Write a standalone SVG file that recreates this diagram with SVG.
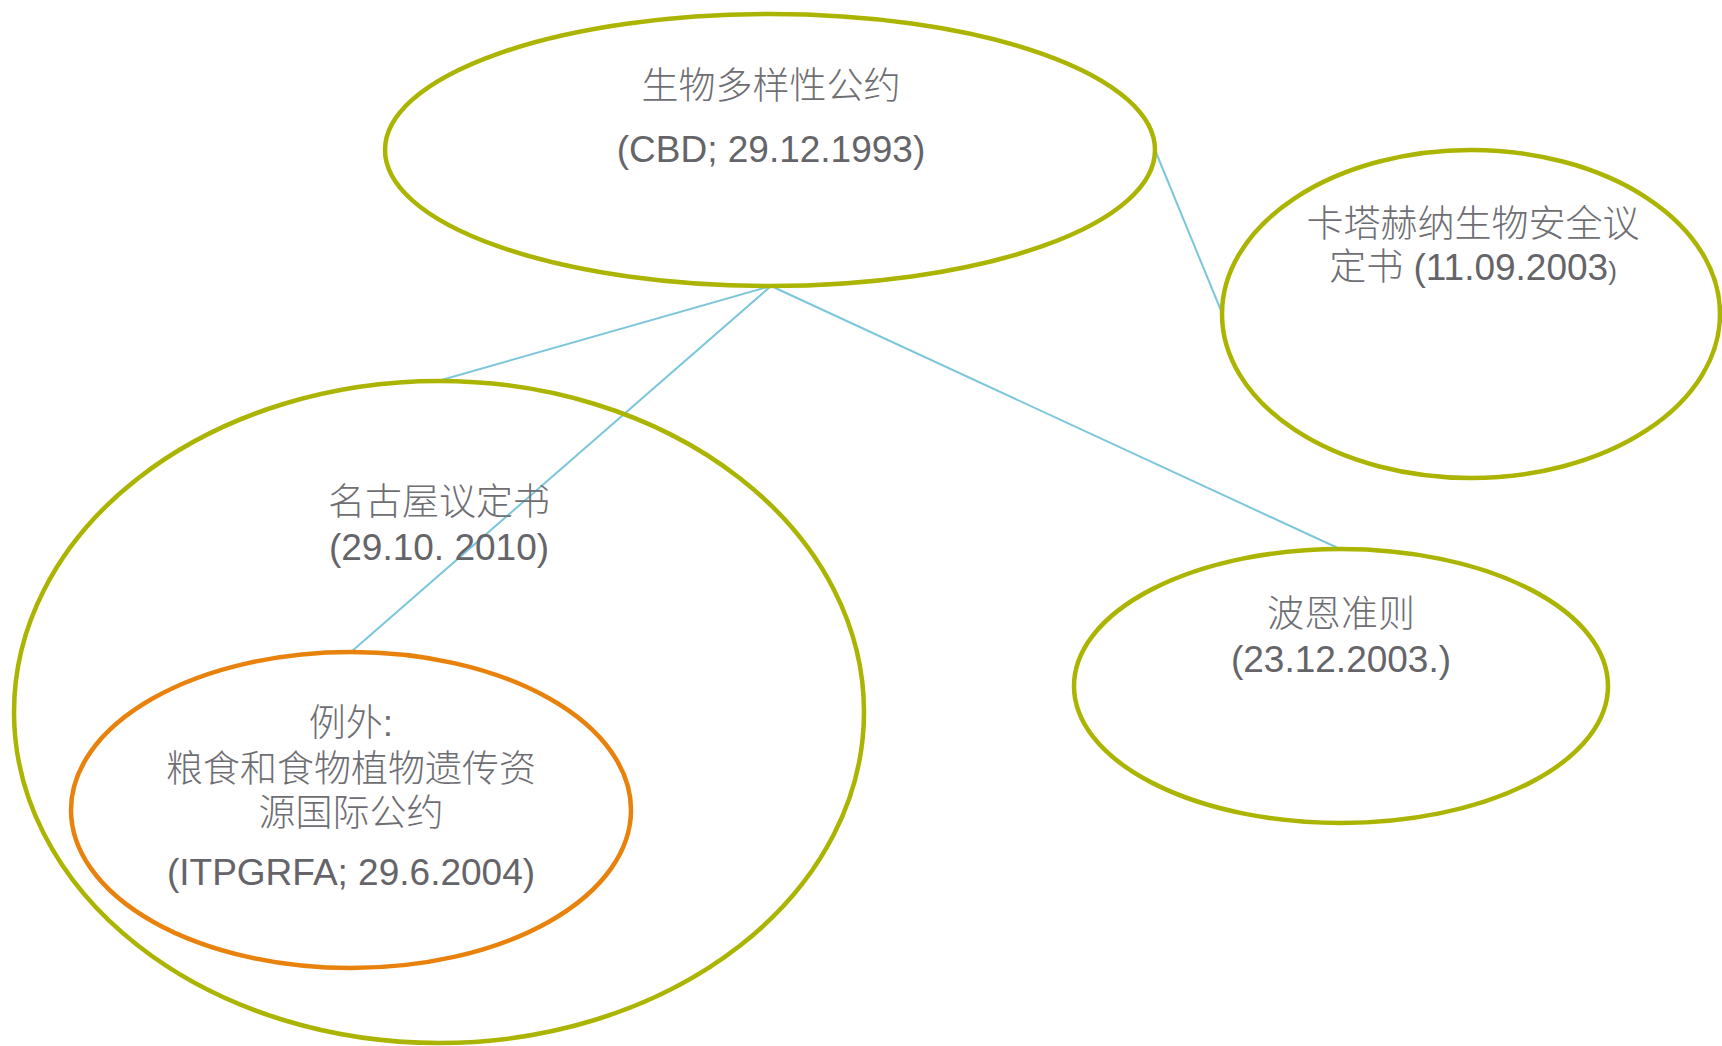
<svg xmlns="http://www.w3.org/2000/svg" width="1722" height="1046" viewBox="0 0 1722 1046">
<style>
.bg{fill:#ffffff}
.node{fill:none;stroke:#abb400;stroke-width:4.5}
.node.orange{stroke:#e8820c}
.link{stroke:#7cc6db;stroke-width:2;fill:none}
text{font-family:"Liberation Sans","Noto Sans CJK SC",sans-serif;font-size:37px;fill:#646469;text-anchor:middle}
.cjk{font-weight:300;fill:#6e6e73}
</style>
<rect class="bg" x="0" y="0" width="1722" height="1046"/>
<g id="connectors">
<line class="link" x1="771" y1="286" x2="438" y2="381"/>
<line class="link" x1="771" y1="286" x2="351" y2="652"/>
<line class="link" x1="771" y1="286" x2="1340" y2="549"/>
<line class="link" x1="1155" y1="150" x2="1222" y2="313"/>
</g>
<g id="cbd">
<ellipse class="node" cx="770" cy="150" rx="385" ry="136"/>
<text class="cjk" x="771" y="99">生物多样性公约</text>
<text x="771" y="162">(CBD; 29.12.1993)</text>
</g>
<g id="cartagena">
<ellipse class="node" cx="1471" cy="314" rx="249" ry="164"/>
<text class="cjk" x="1473" y="237">卡塔赫纳生物安全议</text>
<text x="1473" y="280"><tspan class="cjk">定书</tspan> (11.09.2003<tspan font-size="26">)</tspan></text>
</g>
<g id="nagoya">
<ellipse class="node" cx="439" cy="712" rx="425" ry="331"/>
<text class="cjk" x="439" y="515">名古屋议定书</text>
<text x="439" y="560">(29.10. 2010)</text>
</g>
<g id="itpgrfa">
<ellipse class="node orange" cx="351" cy="810" rx="280" ry="158"/>
<text class="cjk" x="351" y="736">例外:</text>
<text class="cjk" x="351" y="782">粮食和食物植物遗传资</text>
<text class="cjk" x="351" y="826">源国际公约</text>
<text x="351" y="885">(ITPGRFA; 29.6.2004)</text>
</g>
<g id="bonn">
<ellipse class="node" cx="1341" cy="686" rx="267" ry="137"/>
<text class="cjk" x="1341" y="627">波恩准则</text>
<text x="1341" y="672">(23.12.2003.)</text>
</g>
</svg>
